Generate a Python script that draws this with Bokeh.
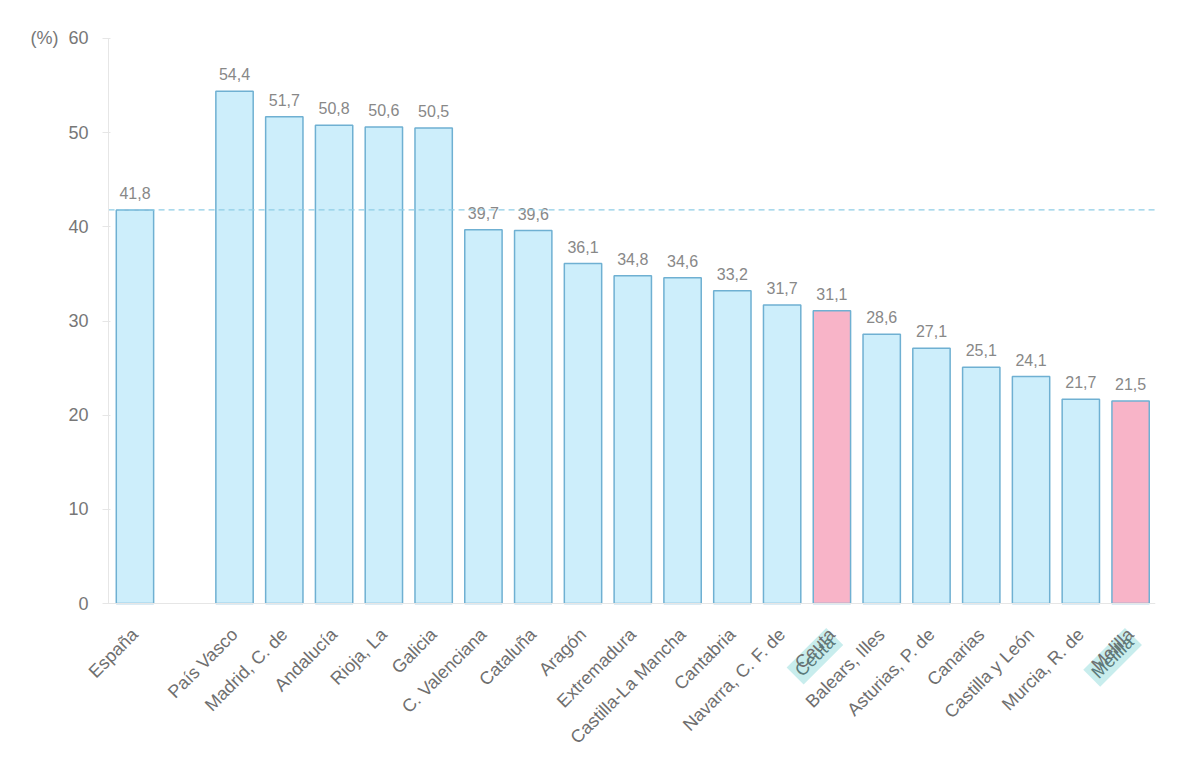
import math
from bokeh.plotting import figure
from bokeh.models import ColumnDataSource, Label, FactorRange
from bokeh.embed import file_html
from bokeh.resources import INLINE

regions = ["España", " ", "País Vasco", "Madrid, C. de", "Andalucía", "Rioja, La", "Galicia",
           "C. Valenciana", "Cataluña", "Aragón", "Extremadura", "Castilla-La Mancha",
           "Cantabria", "Navarra, C. F. de", "Ceuta", "Balears, Illes", "Asturias, P. de",
           "Canarias", "Castilla y León", "Murcia, R. de", "Melilla"]
values = [41.8, None, 54.4, 51.7, 50.8, 50.6, 50.5, 39.7, 39.6, 36.1, 34.8, 34.6,
          33.2, 31.7, 31.1, 28.6, 27.1, 25.1, 24.1, 21.7, 21.5]
highlighted = ["Ceuta", "Melilla"]
average = 41.8
y_ticks = [0, 10, 20, 30, 40, 50, 60]
y_unit = "(%)"

BLUE_FILL = "#cdeefb"
BLUE_LINE = "#6fb0d2"
PINK_FILL = "#f8b4c8"
TEXT = "#777777"

spacers = ["  ", "   "]
factors = spacers + regions
axis_x = 1.97

PX_PER_SLOT = 49.8
PX_PER_UNIT = 9.417
FONT_PX = 18
ANCHOR_Y = -3.8

xs, ys, fills, lbls = [], [], [], []
for r, v in zip(regions, values):
    if v is None:
        continue
    xs.append(r)
    ys.append(v)
    fills.append(PINK_FILL if r in highlighted else BLUE_FILL)
    lbls.append(f"{v:.1f}".replace(".", ","))

src = ColumnDataSource(dict(x=xs, y=ys, fill=fills, lbl=lbls))

p = figure(x_range=FactorRange(*factors, range_padding=0), y_range=(-15.82, 61.91),
           width=1173, height=754, output_backend="svg", toolbar_location=None,
           min_border_left=10, min_border_right=18, min_border_top=20,
           min_border_bottom=2)
p.outline_line_color = None
p.xgrid.grid_line_color = None
p.ygrid.grid_line_color = None

p.vbar(x="x", top="y", width=0.75, source=src, fill_color="fill",
       line_color=BLUE_LINE, line_width=1.5)

p.text(x="x", y="y", text="lbl", source=src, text_align="center",
       text_baseline="bottom", y_offset=-11, text_font_size="16px",
       text_color="#888888")

p.segment(x0=[axis_x], y0=[average], x1=[len(factors)], y1=[average],
          line_color="#8fcde6", line_dash="6 4", line_width=1.2)

p.yaxis.fixed_location = axis_x
p.yaxis.ticker = y_ticks
p.yaxis.bounds = (0, 60)
p.yaxis.axis_line_color = "#e6e6e6"
p.yaxis.major_tick_line_color = "#e6e6e6"
p.yaxis.minor_tick_line_color = None
p.yaxis.major_label_standoff = 14
p.yaxis.major_label_text_color = TEXT
p.yaxis.major_label_text_font_size = "18px"
p.yaxis.major_label_overrides = {60: y_unit + "\u00a0\u00a060"}

p.xaxis.fixed_location = 0
p.xaxis.bounds = (axis_x, len(factors))
p.xaxis.axis_line_color = "#e6e6e6"
p.xaxis.major_tick_line_color = None
p.xaxis.major_tick_out = 0
p.xaxis.major_label_standoff = 28
p.xaxis.major_label_orientation = math.pi / 4
p.xaxis.major_label_text_color = "#6f6f6f"
p.xaxis.major_label_text_font_size = "18px"
p.xaxis.major_label_overrides = {h: "\u200b" for h in highlighted}

# approximate text widths (Liberation Sans em widths) to centre the highlight boxes
em = {"C": .722, "e": .556, "u": .556, "t": .278, "a": .556, "M": .833,
      "l": .222, "i": .222}
hx, hy, hw = [], [], []
for h in highlighted:
    length = sum(em.get(c, .556) for c in h) * FONT_PX
    d = length / 2 / math.sqrt(2)
    cx = factors.index(h) + 0.5 - d / PX_PER_SLOT
    cy = ANCHOR_Y - d / PX_PER_UNIT
    hx.append(cx)
    hy.append(cy)
    hw.append(length + 8)
    p.add_layout(Label(x=cx, y=cy, text=h, angle=math.pi / 4,
                       text_align="center", text_baseline="middle",
                       text_font_size="18px", text_color="#5a7a7a"))

p.rect(x=hx, y=hy, width=hw, height=24, width_units="screen", height_units="screen",
       angle=math.pi / 4, fill_color="#c8eded", line_color=None, level="underlay")

open("out.html", "w").write(file_html(p, INLINE))
